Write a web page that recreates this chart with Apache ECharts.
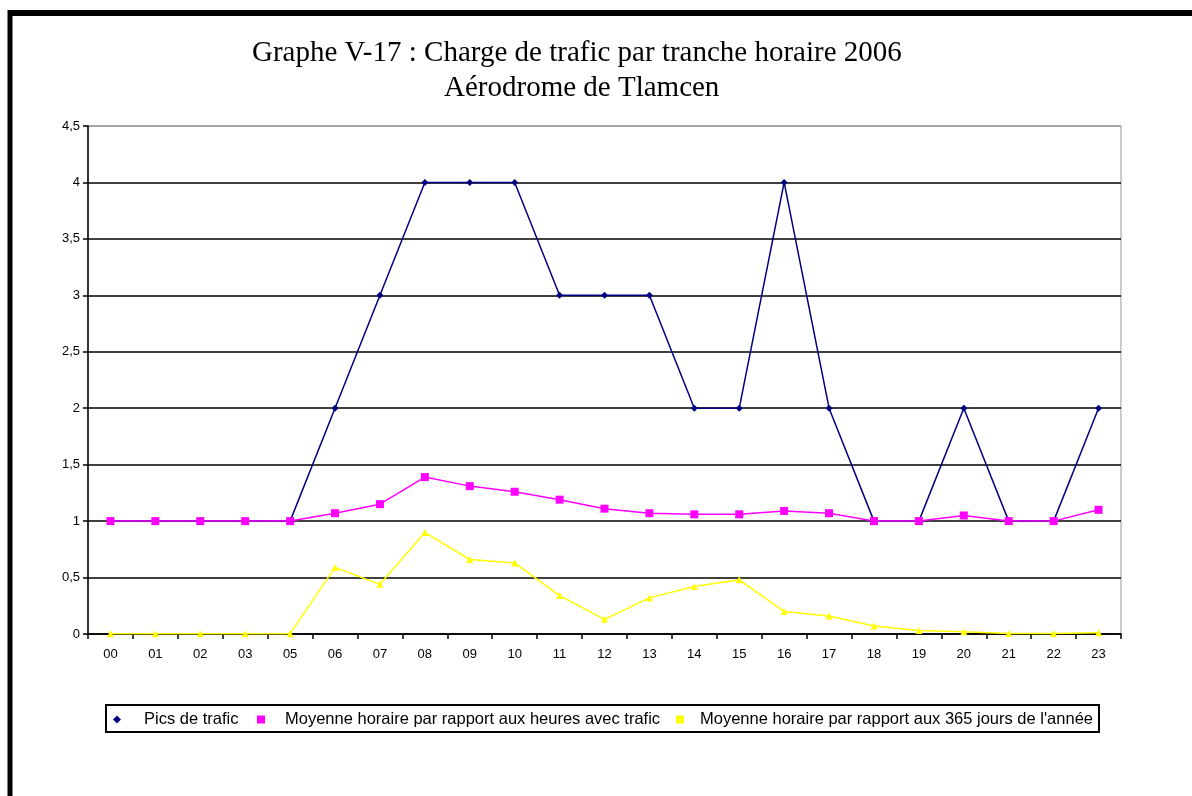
<!DOCTYPE html>
<html>
<head>
<meta charset="utf-8">
<script src="https://cdn.jsdelivr.net/npm/echarts@6/dist/echarts.min.js"></script>
<style>
html,body{margin:0;padding:0;background:#fff;}
#c{width:1192px;height:796px;}
</style>
</head>
<body>
<div id="c"></div>
<script>
const hours = ['00','01','02','03','05','06','07','08','09','10','11','12','13','14','15','16','17','18','19','20','21','22','23'];
const picsTrafic = [1,1,1,1,1,2,3,4,4,4,3,3,3,2,2,4,2,1,1,2,1,1,2];
const moyHeuresTrafic = [1,1,1,1,1,1.07,1.15,1.39,1.31,1.26,1.19,1.11,1.07,1.06,1.06,1.09,1.07,1,1,1.05,1,1,1.10];
const moy365Jours = [0.003,0.003,0.003,0.003,0.003,0.59,0.44,0.9,0.66,0.63,0.34,0.13,0.32,0.42,0.48,0.2,0.16,0.07,0.03,0.02,0.005,0.005,0.01];
const yTicks = [0,0.5,1,1.5,2,2.5,3,3.5,4,4.5];
const names = ['Pics de trafic','Moyenne horaire par rapport aux heures avec trafic',"Moyenne horaire par rapport aux 365 jours de l'année"];
const titleLine1 = 'Graphe V-17 : Charge de trafic par tranche horaire 2006';
const titleLine2 = 'Aérodrome de Tlamcen';

const chart = echarts.init(document.getElementById('c'), null, {renderer:'canvas'});
const sans = 'Liberation Sans, Arial, sans-serif';
const serif = 'Liberation Serif, Times New Roman, serif';
const lt = pad => ({fontFamily: sans, fontSize: 16.5, color: '#000', padding: [0,0,0,pad]});
const gridColors = yTicks.map((v,i)=> i===yTicks.length-1 ? '#999' : '#000');

chart.setOption({
  animation: false,
  backgroundColor: '#fff',
  title: [
    {text: titleLine1, left: 247, top: 34, textStyle:{fontFamily: serif, fontSize: 29, fontWeight:'normal', color:'#000'}},
    {text: titleLine2, left: 439, top: 69, textStyle:{fontFamily: serif, fontSize: 29, fontWeight:'normal', color:'#000'}}
  ],
  grid: {left: 88, top: 126, right: 71, bottom: 162, show: true, borderColor: '#999', borderWidth: 1, backgroundColor: '#fff'},
  legend: [
    {data:[{name:names[0], icon:'diamond'}], left: 113, top: 711, itemWidth: 8, itemHeight: 8, itemGap: 0, textStyle: lt(18), padding: 0},
    {data:[{name:names[1], icon:'rect'}], left: 257, top: 711, itemWidth: 8, itemHeight: 8, itemGap: 0, textStyle: lt(15), padding: 0},
    {data:[{name:names[2], icon:'rect'}], left: 676, top: 711, itemWidth: 8, itemHeight: 8, itemGap: 0, textStyle: lt(11), padding: 0}
  ],
  xAxis: {
    type: 'category', data: hours, boundaryGap: true,
    axisLine: {show: true, lineStyle: {color:'#000', width: 1.5}},
    axisTick: {show: true, inside: false, length: 5, lineStyle:{color:'#000', width: 1.5}},
    axisLabel: {fontFamily: sans, fontSize: 13, color:'#000', margin: 14, interval: 0},
    splitLine: {show: false}
  },
  yAxis: {
    type: 'value', min: 0, max: 4.5, interval: 0.5,
    axisLine: {show: true, lineStyle: {color:'#000', width: 1.5}},
    axisTick: {show: true, inside: false, length: 5, lineStyle:{color:'#000', width: 1.5}},
    axisLabel: {fontFamily: sans, fontSize: 13, color:'#000', margin: 8, formatter: v => String(v).replace('.', ',')},
    splitLine: {show: true, lineStyle: {color: gridColors, width: 1.5}}
  },
  series: [
    {name: names[0], type:'line', data: picsTrafic, symbol:'diamond', symbolSize: 7,
     lineStyle:{color:'#000080', width:1.5}, itemStyle:{color:'#000080'}, z: 2},
    {name: names[1], type:'line', data: moyHeuresTrafic, symbol:'rect', symbolSize: 8,
     lineStyle:{color:'#FF00FF', width:1.5}, itemStyle:{color:'#FF00FF'}, z: 3},
    {name: names[2], type:'line', data: moy365Jours, symbol:'triangle', symbolSize: 7,
     lineStyle:{color:'#FFFF00', width:1.5}, itemStyle:{color:'#FFFF00'}, z: 4}
  ],
  graphic: [
    {type:'line', shape:{x1:10, y1:13, x2:1192, y2:13}, style:{stroke:'#000', lineWidth:6}, silent:true},
    {type:'line', shape:{x1:10, y1:10, x2:10, y2:796}, style:{stroke:'#000', lineWidth:5}, silent:true},
    {type:'rect', shape:{x:106, y:705, width:993, height:27}, style:{fill:'none', stroke:'#000', lineWidth:2}, silent:true}
  ]
});
</script>
</body>
</html>
